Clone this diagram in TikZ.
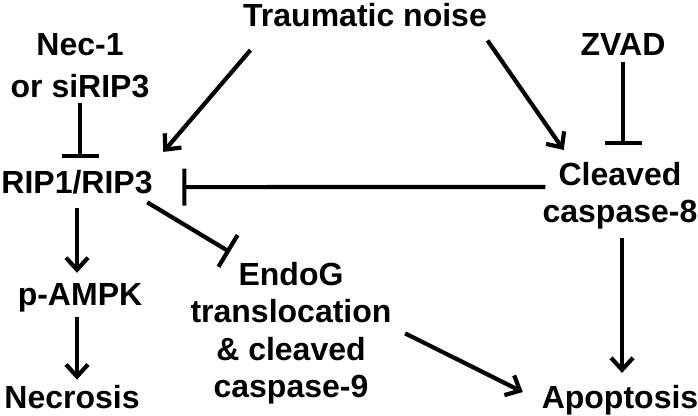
\documentclass[tikz,border=0pt]{standalone}
\usepackage{fontspec}
\setmainfont{Liberation Sans}
\usetikzlibrary{arrows.meta}

\tikzset{
  txt/.style={font=\fontsize{32}{37.5}\selectfont\bfseries, align=center, inner sep=0pt},
  act/.style={-{Straight Barb[length=12pt,width=22pt]}, line width=4.2pt},
  inh/.style={-{Bar[width=37pt]}, line width=4.2pt}
}

\begin{document}
\begin{tikzpicture}[x=1pt,y=1pt]
  \useasboundingbox (0,0) rectangle (698,-415);
  % nodes
  \node[txt, anchor=base]  (noise) at (365,-27)  {Traumatic noise};
  \node[txt, anchor=north] (nec)   at (80,-33)   {Nec-1\\[5pt]or siRIP3};
  \node[txt, anchor=base]  (zvad)  at (623,-55)  {ZVAD};
  \node[txt, anchor=base]  (rip)   at (77,-193)  {RIP1/RIP3};
  \node[txt, anchor=north] (cas8)  at (620,-162) {Cleaved\\caspase-8};
  \node[txt, anchor=north] (endog) at (291,-262) {EndoG\\translocation\\\& cleaved\\caspase-9};
  \node[txt, anchor=base]  (ampk)  at (80,-305)  {p-AMPK};
  \node[txt, anchor=base]  (necr)  at (72,-408)  {Necrosis};
  \node[txt, anchor=base]  (apop)  at (620,-408) {Apoptosis};

  % activation
  \draw[act] ([shift={(7.5,-22.6)}]noise.south west) -- ([shift={(10.5,17.7)}]rip.north east);
  \draw[act] ([shift={(0.5,-13)}]noise.south east) -- ([shift={(21.3,12)}]cas8.north west);
  \draw[act] ([yshift=-14.5]rip.south) -- ([yshift=10]rip.south |- ampk.north);
  \draw[act] ([xshift=-3,yshift=-5]ampk.south) -- ([xshift=-3,yshift=5]ampk.south |- necr.north);
  \draw[act] ([xshift=2,yshift=-8]cas8.south) -- ([xshift=2,yshift=11.7]cas8.south |- apop.north);
  \draw[act] ([xshift=13.5]endog.east) -- ([shift={(-18.8,7.7)}]apop.west);

  % inhibition
  \draw[inh] ([yshift=-5]nec.south) -- ([yshift=11.7]nec.south |- rip.north);
  \draw[inh] ([yshift=-7]zvad.south) -- ([yshift=17]zvad.south |- cas8.north);
  \draw[inh] ([shift={(3,-25)}]cas8.north west) -- ([xshift=29.5,yshift=-5.4]rip.east);
  \draw[inh] ([shift={(-5.5,-8.5)}]rip.south east) -- ([shift={(39.5,10)}]endog.north west);
\end{tikzpicture}
\end{document}
